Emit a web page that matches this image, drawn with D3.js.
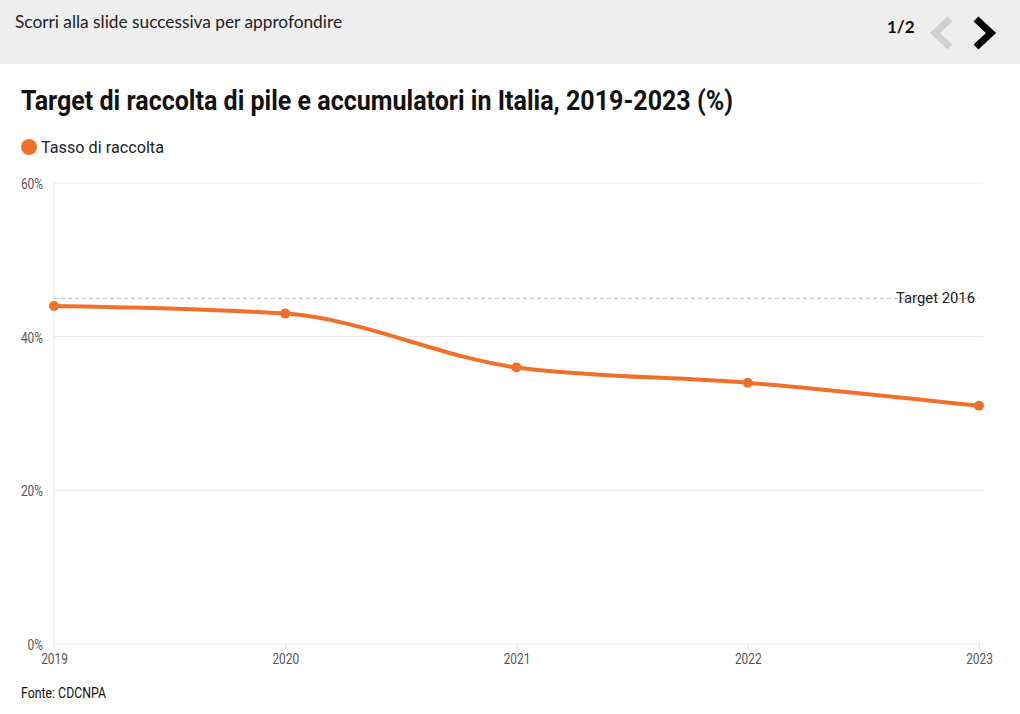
<!DOCTYPE html>
<html><head><meta charset="utf-8">
<script src="https://cdn.jsdelivr.net/npm/d3@7"></script>
<style>body{margin:0;background:#fff}svg{display:block}</style>
</head><body>
<script>
const years = [2019, 2020, 2021, 2022, 2023];
const tasso = [44, 43, 36, 34, 31];
const target = 45;
const yTicks = [0, 20, 40, 60];
const seriesName = "Tasso di raccolta";
const targetLabel = "Target 2016";

const W = 1020, H = 714;
const svg = d3.select("body").append("svg").attr("width", W).attr("height", H);
const cond = "Roboto, sans-serif";

// header
svg.append("rect").attr("x",0).attr("y",0).attr("width",W).attr("height",64).attr("fill","#eeeeee");
svg.append("text").attr("x",15).attr("y",28).attr("font-family","Lato, sans-serif").attr("font-size",17)
  .attr("fill","#222").attr("textLength",327).attr("lengthAdjust","spacingAndGlyphs").text("Scorri alla slide successiva per approfondire");
svg.append("text").attr("x",887).attr("y",33).attr("font-family","Lato, sans-serif").attr("font-weight","bold").attr("font-size",17)
  .attr("fill","#111").text("1/2");
svg.append("polyline").attr("points","950,19 935,33 950,47").attr("fill","none").attr("stroke","#d0d0d0").attr("stroke-width",7);
svg.append("polyline").attr("points","976,19 991,33 976,47").attr("fill","none").attr("stroke","#000").attr("stroke-width",7);

// title
svg.append("text").attr("x",21).attr("y",110).attr("font-family",cond).attr("font-weight","bold").attr("font-size",27)
  .attr("fill","#111").attr("textLength",712).attr("lengthAdjust","spacingAndGlyphs")
  .text("Target di raccolta di pile e accumulatori in Italia, 2019-2023 (%)");

// legend
svg.append("circle").attr("cx",29).attr("cy",147).attr("r",8).attr("fill","#f07029");
svg.append("text").attr("x",41).attr("y",153).attr("font-family",cond).attr("font-size",17).attr("fill","#222")
  .attr("textLength",123).attr("lengthAdjust","spacingAndGlyphs").text(seriesName);

const x = d3.scalePoint().domain(years).range([54, 979]);
const y = d3.scaleLinear().domain([0, 60]).range([644, 183]);

// gridlines
const g = svg.append("g");
g.selectAll("line.grid").data(yTicks).join("line")
  .attr("x1",54).attr("x2",983).attr("y1",d=>y(d)).attr("y2",d=>y(d))
  .attr("stroke","#e8e8e8").attr("stroke-width",1);
g.append("line").attr("x1",54).attr("x2",54).attr("y1",y(60)).attr("y2",y(0)).attr("stroke","#e8e8e8");

// y axis labels
const yAxis = d3.axisLeft(y).tickValues(yTicks).tickFormat(d=>d+"%").tickSize(0).tickPadding(0);
const ya = svg.append("g").attr("transform","translate(43,0)").call(yAxis);
ya.select(".domain").remove();
ya.selectAll("text").attr("font-family",cond).attr("font-size",14).attr("fill","#555").attr("dy","0.4em")
  .attr("x",0).attr("transform","scale(0.85,1)");

// x axis
const xAxis = d3.axisBottom(x).tickSize(5).tickPadding(5);
const xa = svg.append("g").attr("transform",`translate(0,${y(0)})`).call(xAxis);
xa.select(".domain").remove();
xa.selectAll("line").attr("stroke","#e0e0e0");
xa.selectAll("text").attr("font-family",cond).attr("font-size",14).attr("fill","#555")
  .attr("transform","scale(0.85,1)");

// target line
svg.append("line").attr("x1",54).attr("x2",979).attr("y1",y(target)).attr("y2",y(target))
  .attr("stroke","#b8b8b8").attr("stroke-dasharray","4,3").attr("stroke-width",1);
svg.append("text").attr("x",975).attr("y",y(target)+5).attr("text-anchor","end").attr("font-family",cond)
  .attr("font-size",15).attr("fill","#222").attr("textLength",79).attr("lengthAdjust","spacingAndGlyphs").text(targetLabel);

// line
const data = years.map((yr,i)=>({yr, v:tasso[i]}));
const line = d3.line().x(d=>x(d.yr)).y(d=>y(d.v)).curve(d3.curveMonotoneX);
svg.append("path").datum(data).attr("d",line).attr("fill","none").attr("stroke","#f07029").attr("stroke-width",4);
svg.selectAll("circle.pt").data(data).join("circle").attr("class","pt")
  .attr("cx",d=>x(d.yr)).attr("cy",d=>y(d.v)).attr("r",5).attr("fill","#f07029");

// source
svg.append("text").attr("x",21).attr("y",698).attr("font-family",cond).attr("font-size",14).attr("fill","#111")
  .attr("textLength",85).attr("lengthAdjust","spacingAndGlyphs").text("Fonte: CDCNPA");
</script>
</body></html>
